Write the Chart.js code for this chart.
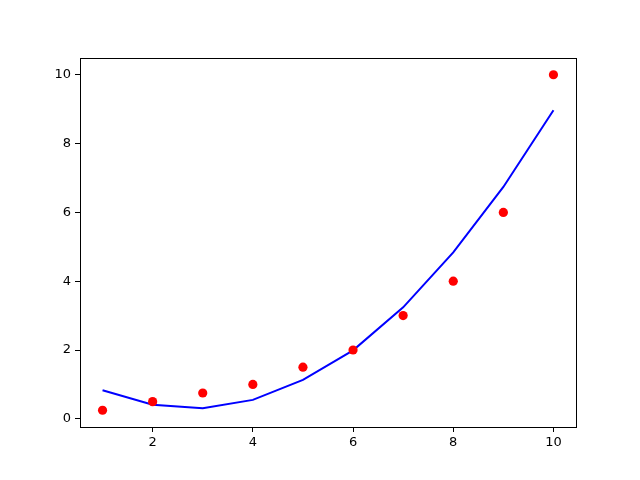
<!DOCTYPE html>
<html>
<head>
<meta charset="utf-8">
<script src="https://cdn.jsdelivr.net/npm/chart.js@4"></script>
<style>
  html, body { margin: 0; padding: 0; background: #fff; }
  #wrap { width: 640px; height: 480px; }
</style>
</head>
<body>
<div id="wrap"><canvas id="chart" width="640" height="480"></canvas></div>
<script>
const xValues = [1, 2, 3, 4, 5, 6, 7, 8, 9, 10];
const observed = [0.25, 0.5, 0.75, 1, 1.5, 2, 3, 4, 6, 10];
const fitted = [0.83, 0.41, 0.31, 0.55, 1.13, 1.99, 3.24, 4.84, 6.74, 8.97];
const xTicks = [2, 4, 6, 8, 10];
const yTicks = [0, 2, 4, 6, 8, 10];

const toPoints = ys => xValues.map((x, i) => ({ x: x, y: ys[i] }));

// box around plot area, like matplotlib spines
const frame = {
  id: 'frame',
  afterDraw(chart) {
    const { ctx, chartArea: a } = chart;
    ctx.save();
    ctx.strokeStyle = '#000';
    ctx.lineWidth = 1;
    ctx.strokeRect(Math.round(a.left) + 0.5, Math.round(a.top) + 0.5,
      Math.round(a.right - a.left), Math.round(a.bottom - a.top));
    ctx.restore();
  }
};

const tickFont = { family: 'DejaVu Sans', size: 13 };

new Chart(document.getElementById('chart').getContext('2d'), {
  type: 'scatter',
  data: {
    datasets: [
      {
        label: 'data',
        data: toPoints(observed),
        backgroundColor: '#ff0000',
        borderColor: '#ff0000',
        pointRadius: 4.6,
        pointBorderWidth: 0,
        order: 0
      },
      {
        label: 'fit',
        data: toPoints(fitted),
        showLine: true,
        borderColor: '#0000ff',
        borderWidth: 2,
        pointRadius: 0,
        fill: false,
        order: 1
      }
    ]
  },
  plugins: [frame],
  options: {
    responsive: false,
    animation: false,
    layout: { padding: { top: 58, right: 64, left: 0, bottom: 0 } },
    plugins: { legend: { display: false }, tooltip: { enabled: false } },
    scales: {
      x: {
        type: 'linear',
        min: 0.55,
        max: 10.45,
        afterBuildTicks: s => { s.ticks = xTicks.map(v => ({ value: v })); },
        afterFit: s => { s.height = 53; },
        grid: { drawOnChartArea: false, drawTicks: true, tickLength: 5, tickColor: '#000' },
        border: { display: true, color: '#000' },
        ticks: { color: '#000', font: tickFont, padding: 3, maxRotation: 0 }
      },
      y: {
        type: 'linear',
        min: -0.2375,
        max: 10.4875,
        afterBuildTicks: s => { s.ticks = yTicks.map(v => ({ value: v })); },
        afterFit: s => { s.width = 80; },
        grid: { drawOnChartArea: false, drawTicks: true, tickLength: 5, tickColor: '#000' },
        border: { display: true, color: '#000' },
        ticks: { color: '#000', font: tickFont, padding: 4 }
      }
    }
  }
});
</script>
</body>
</html>
